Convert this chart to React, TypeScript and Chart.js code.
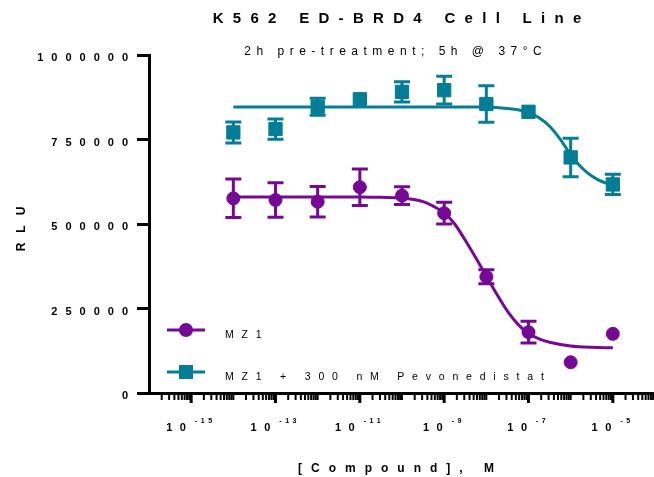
import React, { useEffect, useRef } from 'react';
import { Chart, registerables } from 'chart.js';

Chart.register(...registerables);

const PURPLE = '#760896';
const TEAL = '#047D96';
const FONT = '"Liberation Sans", Arial, Helvetica, sans-serif';

// Tested concentrations (M)
const concentrationsM = [1e-14, 1e-13, 1e-12, 1e-11, 1e-10, 1e-9, 1e-8, 1e-7, 1e-6, 1e-5];

// MZ1 alone: mean RLU and SEM
const mz1Rlu = [576000, 571000, 566000, 609000, 584000, 532000, 344000, 180000, 91000, 175000];
const mz1Sem = [57000, 51000, 45000, 54000, 26000, 32000, 21000, 32000, 0, 0];

// MZ1 + 300 nM Pevonedistat: mean RLU and SEM
const pevoRlu = [771000, 781000, 847000, 869000, 891000, 896000, 855000, 832000, 697000, 617000];
const pevoSem = [31000, 30000, 25000, 0, 30000, 41000, 54000, 0, 57000, 30000];

// Fitted dose-response curves, sampled along log10[M]
const mz1FitLogM = [-14, -13, -12, -11, -10.5, -10, -9.5, -9.25, -9, -8.75, -8.5, -8.25, -8, -7.75, -7.5, -7.25, -7, -6.75, -6.5, -6, -5.5, -5];
const mz1FitRlu = [580000, 580000, 580000, 580000, 579000, 577000, 566000, 552000, 533000, 500000, 452000, 400000, 346000, 292000, 242000, 203000, 176000, 160000, 150000, 139000, 135000, 134000];
const pevoFitLogM = [-14, -12, -10, -8, -7.75, -7.5, -7.25, -7, -6.75, -6.5, -6.25, -6, -5.75, -5.5, -5.25, -5];
const pevoFitRlu = [846000, 846000, 846000, 846000, 845000, 842000, 838000, 830000, 814000, 789000, 751000, 705000, 668000, 642000, 625000, 617000];

// Axis ticks and texts
const yTickValues = [0, 250000, 500000, 750000, 1000000];
const xLabelExponents = [-15, -13, -11, -9, -7, -5];
const seriesLabels = ['MZ1', 'MZ1 + 300 nM Pevonedistat'];
const chartTitle = 'K562 ED-BRD4 Cell Line';
const chartSubtitle = '2h pre-treatment; 5h @ 37°C';
const xTitle = '[Compound], M';
const yTitle = 'RLU';

type Align = 'left' | 'center' | 'right';

// Draws text one glyph at a time with extra tracking between glyphs.
function drawSpaced(ctx: CanvasRenderingContext2D, text: string, x: number, y: number, spacing: number, align: Align): number {
  const chars = Array.from(text);
  const widths = chars.map((c) => ctx.measureText(c).width);
  const total = widths.reduce((a, b) => a + b, 0) + spacing * (chars.length - 1);
  let cx = align === 'left' ? x : align === 'center' ? x - total / 2 : x - total;
  ctx.textAlign = 'left';
  chars.forEach((c, i) => {
    ctx.fillText(c, cx, y);
    cx += widths[i] + spacing;
  });
  return total;
}

function spacedWidth(ctx: CanvasRenderingContext2D, text: string, spacing: number): number {
  const chars = Array.from(text);
  return chars.reduce((a, c) => a + ctx.measureText(c).width, 0) + spacing * (chars.length - 1);
}

function drawMarker(ctx: CanvasRenderingContext2D, style: string, x: number, y: number, color: string) {
  ctx.fillStyle = color;
  ctx.beginPath();
  if (style === 'rect') {
    ctx.rect(x - 7, y - 7, 14, 14);
  } else {
    ctx.arc(x, y, 7, 0, Math.PI * 2);
  }
  ctx.fill();
}

const seriesErrors: { [k: number]: { values: number[]; sem: number[]; color: string } } = {
  0: { values: mz1Rlu, sem: mz1Sem, color: PURPLE },
  1: { values: pevoRlu, sem: pevoSem, color: TEAL },
};

const decorPlugin = {
  id: 'doseResponseDecor',
  beforeDatasetsDraw(chart: any) {
    const ctx: CanvasRenderingContext2D = chart.ctx;
    const xs = chart.scales.x;
    const ys = chart.scales.y;
    ctx.save();
    ctx.lineWidth = 3;
    ctx.lineCap = 'butt';
    Object.keys(seriesErrors).forEach((k) => {
      const s = seriesErrors[Number(k)];
      ctx.strokeStyle = s.color;
      concentrationsM.forEach((c, i) => {
        const e = s.sem[i];
        if (!e) return;
        const px = xs.getPixelForValue(c);
        const top = ys.getPixelForValue(s.values[i] + e);
        const bot = ys.getPixelForValue(s.values[i] - e);
        ctx.beginPath();
        ctx.moveTo(px, top);
        ctx.lineTo(px, bot);
        ctx.moveTo(px - 8, top);
        ctx.lineTo(px + 8, top);
        ctx.moveTo(px - 8, bot);
        ctx.lineTo(px + 8, bot);
        ctx.stroke();
      });
    });
    ctx.restore();
  },
  afterDraw(chart: any) {
    const ctx: CanvasRenderingContext2D = chart.ctx;
    const xs = chart.scales.x;
    const ys = chart.scales.y;
    const area = chart.chartArea;
    ctx.save();
    ctx.fillStyle = '#000';
    ctx.strokeStyle = '#000';
    ctx.textBaseline = 'alphabetic';

    // log-axis tick marks: long at labelled decades, short elsewhere
    for (let d = -16; d <= -4; d++) {
      for (let k = 1; k <= 9; k++) {
        const v = k * Math.pow(10, d);
        if (v < xs.min * 1.0001 || v > xs.max * 1.0001) continue;
        const major = k === 1 && xLabelExponents.includes(d);
        const px = xs.getPixelForValue(v);
        ctx.lineWidth = major ? 3 : 2;
        ctx.beginPath();
        ctx.moveTo(px, area.bottom);
        ctx.lineTo(px, area.bottom + (major ? 10 : 7));
        ctx.stroke();
      }
    }

    // x tick labels: 10 with a superscript exponent
    xLabelExponents.forEach((e) => {
      const px = xs.getPixelForValue(Math.pow(10, e));
      ctx.font = `bold 11px ${FONT}`;
      const wBase = spacedWidth(ctx, '10', 7.5);
      ctx.font = `bold 7px ${FONT}`;
      const sup = String(e);
      const wSup = spacedWidth(ctx, sup, 3.5);
      const gap = 9;
      const left = px - 2 - (wBase + gap + wSup) / 2;
      ctx.font = `bold 11px ${FONT}`;
      drawSpaced(ctx, '10', left, 431, 7.5, 'left');
      ctx.font = `bold 7px ${FONT}`;
      drawSpaced(ctx, sup, left + wBase + gap, 423, 3.5, 'left');
    });

    // y tick labels
    ctx.font = `bold 11px ${FONT}`;
    ctx.textBaseline = 'middle';
    yTickValues.forEach((v) => {
      const py = ys.getPixelForValue(v);
      drawSpaced(ctx, String(v), 128, py + 3, 8, 'right');
    });
    ctx.textBaseline = 'alphabetic';

    // titles
    ctx.font = `bold 15px ${FONT}`;
    drawSpaced(ctx, chartTitle, 397, 23, 9.3, 'center');
    ctx.font = `12px ${FONT}`;
    drawSpaced(ctx, chartSubtitle, 393, 55, 5.5, 'center');
    ctx.font = `bold 12px ${FONT}`;
    drawSpaced(ctx, xTitle, 396, 472, 9, 'center');
    ctx.save();
    ctx.translate(25, (area.top + area.bottom) / 2 + 5);
    ctx.rotate(-Math.PI / 2);
    drawSpaced(ctx, yTitle, 0, 0, 10, 'center');
    ctx.restore();

    // legend
    const rows = [
      { ds: chart.data.datasets[0], style: 'circle', y: 330 },
      { ds: chart.data.datasets[1], style: 'rect', y: 372 },
    ];
    rows.forEach((r) => {
      const color = r.ds.borderColor as string;
      ctx.strokeStyle = color;
      ctx.lineWidth = 3;
      ctx.beginPath();
      ctx.moveTo(167, r.y);
      ctx.lineTo(205, r.y);
      ctx.stroke();
      drawMarker(ctx, r.style, 186, r.y, color);
      ctx.fillStyle = '#000';
      ctx.font = `10.5px ${FONT}`;
      drawSpaced(ctx, r.ds.label, 225, r.y + 7.5, 7.8, 'left');
    });
    ctx.restore();
  },
};

export default function App() {
  const ref = useRef<HTMLCanvasElement>(null);

  useEffect(() => {
    const canvas = ref.current;
    if (!canvas) return;
    const chart = new Chart(canvas, {
      type: 'scatter',
      data: {
        datasets: [
          {
            label: seriesLabels[0],
            data: concentrationsM.map((x, i) => ({ x, y: mz1Rlu[i] })),
            pointStyle: 'circle',
            pointRadius: 6.5,
            pointBorderWidth: 1,
            backgroundColor: PURPLE,
            borderColor: PURPLE,
            showLine: false,
          },
          {
            label: seriesLabels[1],
            data: concentrationsM.map((x, i) => ({ x, y: pevoRlu[i] })),
            pointStyle: 'rect',
            pointRadius: 9.4,
            pointBorderWidth: 1,
            backgroundColor: TEAL,
            borderColor: TEAL,
            showLine: false,
          },
          {
            label: 'MZ1 fit',
            data: mz1FitLogM.map((l, i) => ({ x: Math.pow(10, l), y: mz1FitRlu[i] })),
            showLine: true,
            pointRadius: 0,
            borderColor: PURPLE,
            borderWidth: 3,
            cubicInterpolationMode: 'monotone',
            fill: false,
          },
          {
            label: 'MZ1 + Pevonedistat fit',
            data: pevoFitLogM.map((l, i) => ({ x: Math.pow(10, l), y: pevoFitRlu[i] })),
            showLine: true,
            pointRadius: 0,
            borderColor: TEAL,
            borderWidth: 3,
            cubicInterpolationMode: 'monotone',
            fill: false,
          },
        ],
      } as any,
      options: {
        responsive: false,
        animation: false,
        devicePixelRatio: 1,
        events: [],
        layout: { autoPadding: false, padding: { left: 0, top: 55, right: 9, bottom: 84 } },
        plugins: {
          legend: { display: false },
          tooltip: { enabled: false },
          title: { display: false },
        },
        scales: {
          x: {
            type: 'logarithmic',
            position: 'bottom',
            min: 1e-16,
            max: 1e-4,
            grid: { display: false, drawTicks: false },
            border: { display: true, color: '#000', width: 3 },
            ticks: { display: false },
            afterFit: (s: any) => {
              s.height = 0;
            },
          },
          y: {
            type: 'linear',
            position: 'left',
            min: 0,
            max: 1000000,
            afterBuildTicks: (s: any) => {
              s.ticks = yTickValues.map((v) => ({ value: v }));
            },
            grid: { drawOnChartArea: false, drawTicks: true, tickLength: 12, lineWidth: 3, color: '#000' },
            border: { display: true, color: '#000', width: 3 },
            ticks: { display: false },
            afterFit: (s: any) => {
              s.width = 149;
            },
          },
        },
      } as any,
      plugins: [decorPlugin],
    });
    return () => chart.destroy();
  }, []);

  return (
    <div style={{ position: 'absolute', left: 0, top: 0, width: 654, height: 477, overflow: 'hidden', background: '#fff' }}>
      <canvas ref={ref} width={664} height={477} style={{ display: 'block', width: 664, height: 477 }} />
    </div>
  );
}
